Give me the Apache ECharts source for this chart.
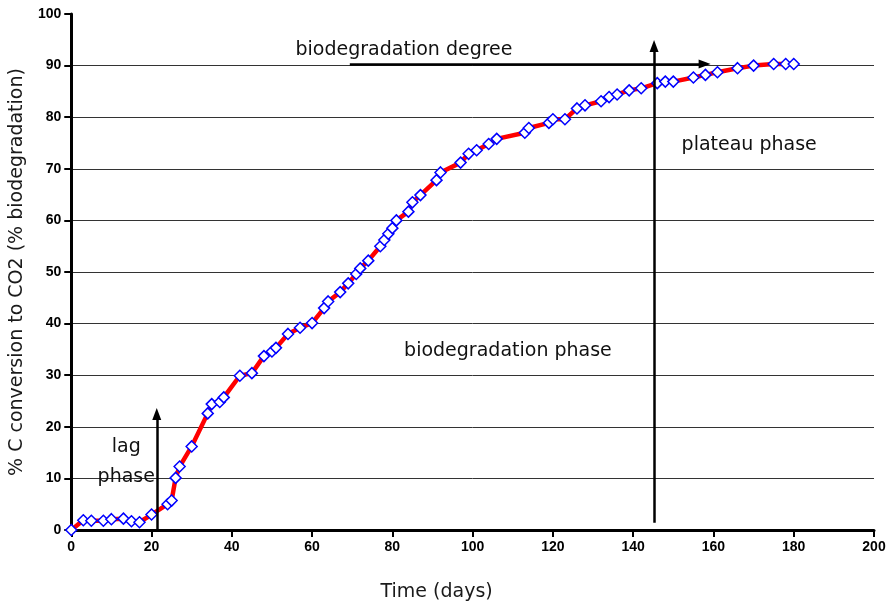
<!DOCTYPE html>
<html><head><meta charset="utf-8">
<script src="https://cdn.jsdelivr.net/npm/echarts@6/dist/echarts.min.js"></script>
<style>html,body{margin:0;padding:0;background:#fff}#c{width:893px;height:608px}</style>
</head><body><div id="c"></div>
<script>
const days = [0,3,5,8,10,13,15,17,20,24,25,26,27,30,34,35,37,38,42,45,48,50,51,54,57,60,63,64,67,69,71,72,74,77,78,79,80,81,84,85,87,91,92,97,99,101,104,106,113,114,119,120,123,126,128,132,134,136,139,142,146,148,150,155,158,161,166,170,175,178,180];
const conversion = [0,1.9,1.8,1.8,2.1,2.2,1.7,1.5,3.0,5.0,5.7,10.1,12.3,16.2,22.6,24.4,24.8,25.7,29.9,30.4,33.7,34.6,35.3,38.0,39.2,40.1,43.0,44.3,46.1,47.8,49.6,50.7,52.2,55.0,56.2,57.4,58.5,60.0,61.7,63.5,64.9,67.8,69.3,71.2,72.9,73.6,74.8,75.8,77.0,77.9,78.9,79.6,79.6,81.7,82.3,83.1,83.9,84.4,85.2,85.6,86.6,86.9,86.9,87.7,88.2,88.7,89.5,90.0,90.3,90.3,90.3];
const xTicks = [0,20,40,60,80,100,120,140,160,180,200];
const yTicks = [0,10,20,30,40,50,60,70,80,90,100];
// annotation texts anchored in data coordinates [day, value, text]
const notes = [[82.9,93.0,'biodegradation degree'],[168.9,74.6,'plateau phase'],[108.8,34.7,'biodegradation phase'],[13.7,16.1,'lag'],[13.7,10.3,'phase']];
// arrows [x1,y1,x2,y2]
const arrows = [[21.3,0,21.3,22.5],[145.2,1.4,145.2,93.8],[69.4,90.3,157.8,90.3]];

const chart = echarts.init(document.getElementById('c'));
const txtFont = 'DejaVu Sans, Verdana, sans-serif';
chart.setOption({
  animation:false,
  grid:{left:71,right:19,top:14,bottom:78},
  xAxis:{type:'value',min:0,max:200,interval:20,
    name:'Time (days)',nameLocation:'middle',nameGap:53,
    nameTextStyle:{fontFamily:txtFont,fontSize:19,color:'#1a1a1a',padding:[0,72,0,0]},
    axisLine:{lineStyle:{color:'#000',width:3}},
    axisTick:{length:7,lineStyle:{color:'#000',width:2}},
    axisLabel:{fontFamily:'Liberation Sans, Arial',fontWeight:'bold',fontSize:14,color:'#000',margin:10},
    splitLine:{show:false}},
  yAxis:{type:'value',min:0,max:100,interval:10,
    name:'% C conversion to CO2 (% biodegradation)',nameLocation:'middle',nameGap:40,
    nameTextStyle:{fontFamily:txtFont,fontSize:19,color:'#1a1a1a'},
    axisLine:{show:true,lineStyle:{color:'#000',width:3}},
    axisTick:{show:true,length:7,lineStyle:{color:'#000',width:2}},
    axisLabel:{fontFamily:'Liberation Sans, Arial',fontWeight:'bold',fontSize:14,color:'#000',margin:10},
    splitLine:{show:true,showMinLine:false,showMaxLine:false,lineStyle:{color:'#333',width:1}}},
  series:[
    {type:'line',data:days.map((d,i)=>[d,conversion[i]]),
     lineStyle:{color:'#ff0000',width:4.5},
     symbol:'diamond',symbolSize:11,showAllSymbol:true,
     itemStyle:{color:'#fff',borderColor:'#0000ff',borderWidth:1.5},
     z:3},
    {type:'line',data:[],silent:true,
     markLine:{silent:true,symbol:['none','triangle'],symbolSize:[9,12],
       label:{show:false},
       lineStyle:{color:'#000',width:2.5,type:'solid'},
       data:arrows.map(a=>[{coord:[a[0],a[1]]},{coord:[a[2],a[3]]}])}},
    {type:'scatter',symbolSize:0,silent:true,data:notes.map(n=>[n[0],n[1],n[2]]),
     itemStyle:{opacity:1},
     label:{show:true,position:'inside',formatter:p=>p.data[2],
       fontFamily:txtFont,fontSize:19,color:'#111'},z:5}
  ]
});
</script></body></html>
